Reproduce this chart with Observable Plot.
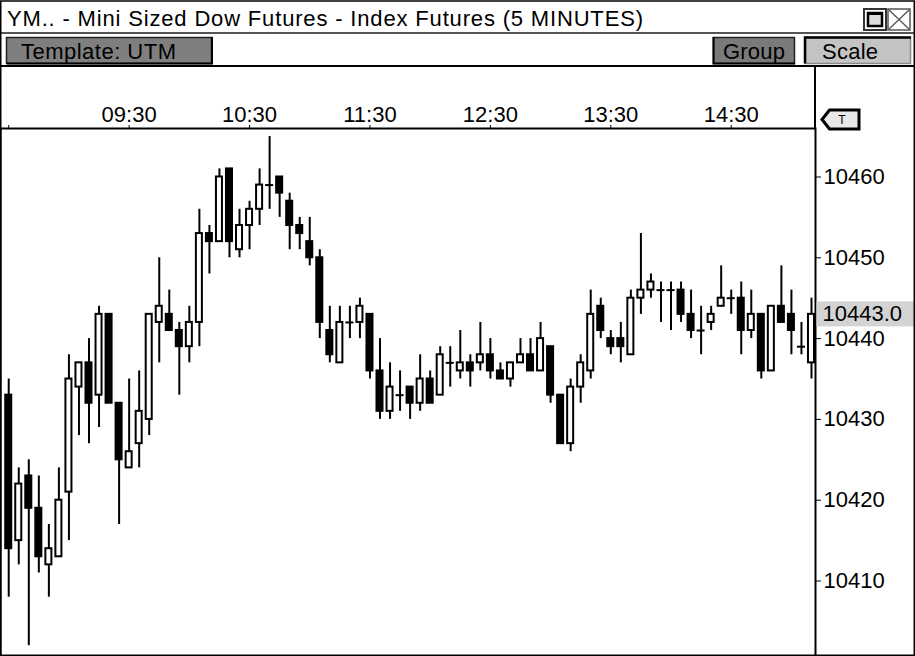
<!DOCTYPE html>
<html><head><meta charset="utf-8">
<script src="https://cdn.jsdelivr.net/npm/d3@7"></script>
<script src="https://cdn.jsdelivr.net/npm/@observablehq/plot@0.6"></script>
<style>
html,body{margin:0;padding:0;background:#fff;}
#win{position:relative;width:915px;height:656px;overflow:hidden;background:#fff;font-family:'Liberation Sans',Arial,sans-serif;}
#head{position:absolute;left:0;top:0;}
#chart{position:absolute;left:0;top:67px;}
#over{position:absolute;left:0;top:0;pointer-events:none;}
</style></head><body>
<div id="win">
<svg id="head" width="915" height="67" font-family="'Liberation Sans', Arial, sans-serif">
  <rect x="0" y="0" width="915" height="67" fill="#fff"/>
  <text x="7" y="26" font-size="22" textLength="636">YM.. - Mini Sized Dow Futures - Index Futures (5 MINUTES)</text>
  <line x1="0" x2="915" y1="33" y2="33" stroke="#555" stroke-width="2"/>
  <rect x="864" y="9" width="22" height="21" fill="#fff" stroke="#333" stroke-width="2"/>
  <rect x="868" y="13" width="14" height="13" fill="#dcdcdc" stroke="#000" stroke-width="2.5"/>
  <rect x="867" y="12" width="16" height="3" fill="#000"/>
  <rect x="888" y="9" width="22" height="21" fill="#fff" stroke="#555" stroke-width="1.5"/>
  <path d="M889 10 L909 29 M909 10 L889 29" stroke="#555" stroke-width="1.3"/>
  <rect x="6.5" y="37.5" width="205" height="26" fill="#7f7f7f" stroke="#222" stroke-width="1.5"/>
  <path d="M7 63.5 H212 V37" fill="none" stroke="#000" stroke-width="2"/>
  <text x="21" y="59" font-size="22" textLength="155">Template: UTM</text>
  <rect x="713.5" y="37.5" width="81" height="26" fill="#7a7a7a" stroke="#222" stroke-width="1.5"/>
  <path d="M713.5 37 V63.5 H795" fill="none" stroke="#000" stroke-width="2"/>
  <text x="723" y="59" font-size="22" textLength="62">Group</text>
  <rect x="805.5" y="37.5" width="105" height="26" fill="#c4c4c4" stroke="#888" stroke-width="1.5"/>
  <path d="M805 63.5 V37.5 H911" fill="none" stroke="#000" stroke-width="2.5"/>
  <text x="822" y="59" font-size="22" textLength="56">Scale</text>
  <line x1="0" x2="915" y1="66" y2="66" stroke="#000" stroke-width="2"/>
</svg>
<div id="chart"></div>
<svg id="over" width="915" height="656">
  <line x1="815" x2="815" y1="66" y2="128" stroke="#000" stroke-width="2"/>
  <path d="M822 119.5 L829.5 110 L859 110 L859 129 L829.5 129 Z" fill="#e8e8e8" stroke="#000" stroke-width="3" stroke-linejoin="miter"/>
  <text x="842" y="124" font-size="12" text-anchor="middle" font-family="'Liberation Sans', Arial, sans-serif">T</text>
  <rect x="0.75" y="1" width="913.5" height="654.25" fill="none" stroke="#000" stroke-width="1.5"/>
</svg>
</div>
<script>
// ---- data (YM 5-minute bars) ----
const sessionStart = "08:30";
const barMinutes = 5;
const open  = [10433,10415,10423,10419,10412,10413,10421,10434,10437,10433,10443,10432,10424,10427,10430,10442,10443,10441,10439,10442,10453,10452,10461,10451,10454,10456,10459,10460,10457,10454,10452,10450,10441,10437,10442,10442,10443,10436,10431,10433,10434,10432,10435,10433,10437,10436,10437,10437,10438,10436,10435,10437,10438,10436,10439,10433,10427,10434,10436,10444,10440,10440,10438,10445,10446,10446,10446,10446,10443,10441,10442,10444,10445,10445,10441,10443,10436,10444,10443,10439,10437];
const high  = [10435,10424,10425,10423,10417,10424,10438,10437,10440,10444,10443,10432,10435,10436,10443,10450,10446,10442,10444,10456,10454,10461,10461,10456,10457,10461,10465,10460,10458,10455,10455,10451,10444,10444,10444,10445,10443,10440,10437,10436,10434,10438,10436,10439,10439,10441,10438,10442,10440,10437,10437,10440,10440,10442,10439,10433,10435,10438,10446,10445,10441,10442,10446,10453,10448,10447,10447,10447,10446,10444,10444,10449,10446,10447,10446,10443,10444,10449,10446,10442,10445];
const low   = [10408,10412,10402,10411,10408,10413,10415,10428,10427,10429,10432,10417,10424,10424,10428,10437,10441,10433,10437,10439,10448,10452,10450,10450,10451,10454,10456,10455,10451,10451,10449,10440,10437,10437,10440,10440,10435,10430,10430,10431,10430,10431,10432,10433,10434,10435,10434,10436,10435,10435,10434,10437,10436,10436,10432,10427,10426,10432,10435,10440,10438,10437,10438,10443,10445,10442,10441,10442,10440,10438,10441,10444,10443,10438,10440,10435,10436,10442,10438,10438,10435];
const close = [10414,10422,10419,10413,10414,10420,10435,10437,10432,10443,10432,10425,10426,10431,10443,10444,10441,10439,10442,10453,10452,10460,10452,10454,10456,10459,10459,10458,10454,10453,10450,10442,10438,10442,10442,10444,10436,10431,10434,10433,10432,10435,10432,10438,10437,10437,10436,10438,10436,10435,10437,10438,10436,10440,10433,10427,10434,10437,10443,10441,10439,10439,10445,10446,10447,10446,10446,10443,10441,10441,10443,10445,10445,10441,10443,10436,10444,10442,10441,10439,10443];
const timeTicks  = ["08:30","09:30","10:30","11:30","12:30","13:30","14:30"];
const priceTicks = [10410,10420,10430,10440,10450,10460];

const toMin = s => +s.slice(0, 2) * 60 + +s.slice(3);
const fmtMin = m => String(Math.floor(m / 60)).padStart(2, "0") + ":" + String(m % 60).padStart(2, "0");
const t0 = toMin(sessionStart);
const bars = open.map((o, i) => ({t: t0 + barMinutes * i, open: o, high: high[i], low: low[i], close: close[i]}));
const half = 1.5;
const lastClose = close[close.length - 1];

const chart = Plot.plot({
  width: 915,
  height: 589,
  marginTop: 61, marginRight: 100, marginBottom: 0, marginLeft: 0,
  style: {fontFamily: "'Liberation Sans', Arial, sans-serif", fontSize: "22px", background: "white", color: "black", overflow: "visible"},
  x: {type: "linear", domain: [505.9, 912], axis: "top", ticks: timeTicks.map(toMin),
      tickFormat: m => m === t0 ? "" : fmtMin(m), tickSize: 4, tickPadding: 3, label: null},
  y: {domain: [10400.66, 10466.0], axis: "right", ticks: priceTicks, tickFormat: d => String(d),
      tickSize: 5, tickPadding: 3, label: null},
  marks: [
    Plot.frame({stroke: "black", strokeWidth: 2}),
    Plot.ruleX(bars, {x: "t", y1: "low", y2: "high", stroke: "black", strokeWidth: 2}),
    Plot.rect(bars.filter(d => d.close > d.open), {x1: d => d.t - half, x2: d => d.t + half, y1: "open", y2: "close", fill: "white", stroke: "black", strokeWidth: 2}),
    Plot.rect(bars.filter(d => d.close < d.open), {x1: d => d.t - half, x2: d => d.t + half, y1: "open", y2: "close", fill: "black", stroke: "black", strokeWidth: 2}),
    Plot.ruleY(bars.filter(d => d.close === d.open), {y: "close", x1: d => d.t - half - 0.5, x2: d => d.t + half + 0.5, stroke: "black", strokeWidth: 2}),
    Plot.text([lastClose], {y: d => d, text: d => d.toFixed(1), frameAnchor: "right", dx: 7, textAnchor: "start", fill: "black", fontSize: 22})
  ]
});
document.getElementById("chart").appendChild(chart);

// grey highlight behind the last-price label
const lbl = Array.from(chart.querySelectorAll("text")).find(t => t.textContent === lastClose.toFixed(1));
if (lbl) {
  const bb = lbl.getBBox();
  const r = document.createElementNS("http://www.w3.org/2000/svg", "rect");
  if (lbl.getAttribute("transform")) r.setAttribute("transform", lbl.getAttribute("transform"));
  r.setAttribute("x", bb.x - 6);
  r.setAttribute("y", bb.y);
  r.setAttribute("width", 98);
  r.setAttribute("height", bb.height);
  r.setAttribute("fill", "#d3d3d3");
  lbl.parentNode.insertBefore(r, lbl);
}
</script>
</body></html>
